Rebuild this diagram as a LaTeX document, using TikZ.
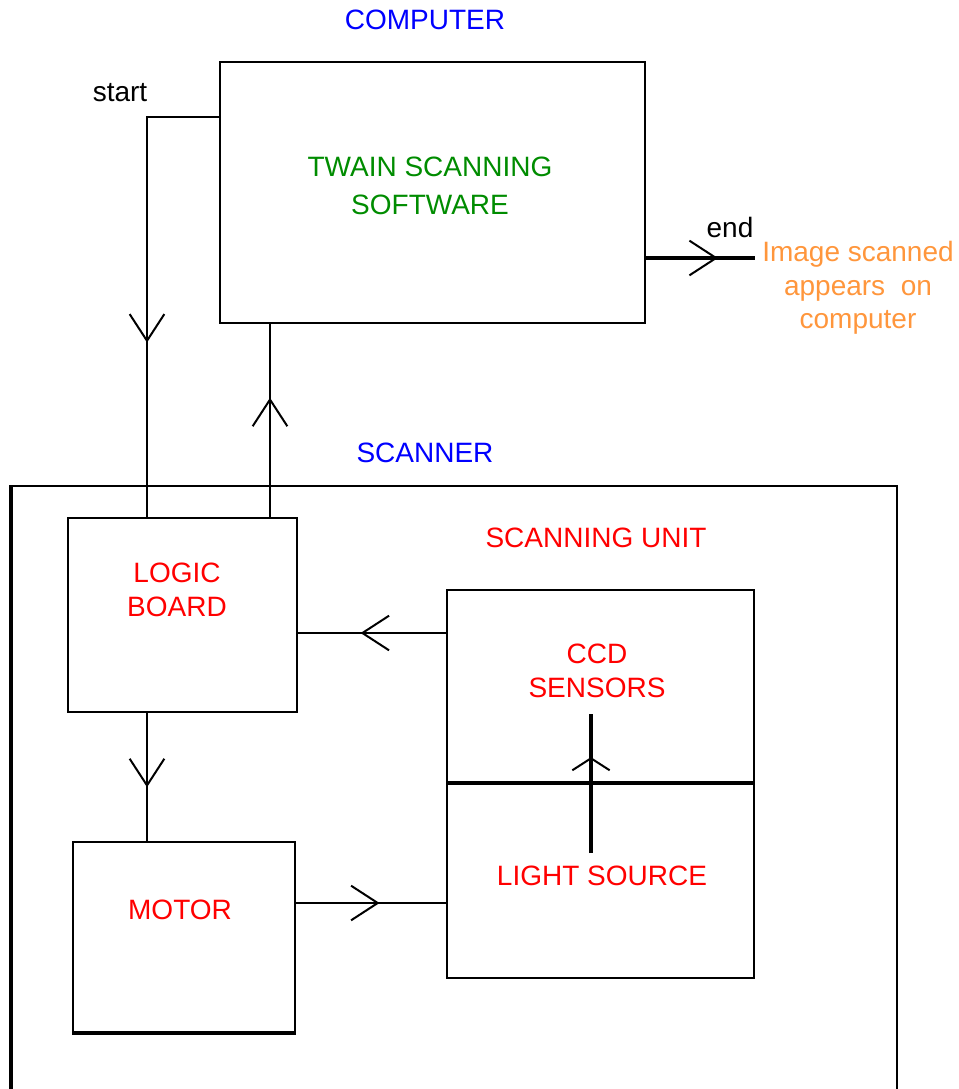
\documentclass[tikz,border=0pt]{standalone}
\usepackage{fontspec}
\setmainfont{Liberation Sans}
\usetikzlibrary{arrows.meta,decorations.markings}
\definecolor{titleblue}{RGB}{0,0,255}
\definecolor{softgreen}{RGB}{0,140,0}
\definecolor{unitred}{RGB}{255,0,0}
\definecolor{outorange}{RGB}{255,150,60}
\tikzset{
  box/.style={draw, line width=1.5pt, rectangle, inner sep=0pt},
  lbl/.style={font=\fontsize{21}{25}\selectfont, align=center, inner sep=0pt},
  flow/.style={line width=1.5pt, postaction={decorate},
    decoration={markings, mark=at position #1 with
      {\arrow{Straight Barb[length=20pt,width=26pt,line width=1.5pt]}}}},
  flow/.default=0.5,
  flowflat/.style={line width=2.5pt, postaction={decorate},
    decoration={markings, mark=at position #1 with
      {\arrow{Straight Barb[length=9pt,width=28pt,line width=1.5pt]}}}},
}
\begin{document}
\begin{tikzpicture}[x=0.75pt,y=-0.75pt]
  \useasboundingbox (0,0) rectangle (959,1089);
  \clip (0,0) rectangle (959,1089);

  % 计算机
  \node[lbl, text=titleblue] (comptitle) at (425,20) {COMPUTER};
  \node[box, minimum width=425*0.75pt, minimum height=261*0.75pt] (computer) at (432.5,192.5) {};
  \node[lbl, text=softgreen, font=\fontsize{21}{28}\selectfont] (twain) at (430,186) {TWAIN SCANNING\\SOFTWARE};

  % 扫描仪
  \node[lbl, text=titleblue] (scantitle) at (425,453) {SCANNER};
  \node[box, minimum width=885*0.75pt, minimum height=634*0.75pt] (scanner) at (454.5,803) {};
  \draw[line width=3pt] (scanner.north west) -- (scanner.south west);
  \node[lbl, text=unitred] (unittitle) at (596,538) {SCANNING UNIT};

  % 模块
  \node[box, minimum width=229*0.75pt, minimum height=194*0.75pt] (logic) at (182.5,615) {};
  \node[lbl, text=unitred] (logictxt) at (177,590) {LOGIC\\BOARD};
  \node[box, minimum width=307*0.75pt, minimum height=388*0.75pt] (ccd) at (600.5,784) {};
  \node[lbl, text=unitred] (ccdtxt) at (597,671) {CCD\\SENSORS};
  \node[lbl, text=unitred] (lighttxt) at (602,876) {LIGHT SOURCE};
  \node[box, minimum width=222*0.75pt, minimum height=190*0.75pt] (motor) at (184,937) {};
  \draw[line width=3pt] (motor.south west) -- (motor.south east);
  \node[lbl, text=unitred] (motortxt) at (180,910) {MOTOR};

  % 端点
  \coordinate (startpt) at (220,117);
  \coordinate (lgin) at (147,518);
  \coordinate (lgout) at (270,518);
  \coordinate (endpt) at (755,258);
  \coordinate (ccdout) at (447,633);
  \coordinate (mtout) at (295,903);
  \coordinate (divl) at (447,783);
  \coordinate (lampbot) at (591,853);
  \coordinate (senstop) at (591,714);

  % 连线
  \draw[flow=0.63] (startpt) -| (lgin);
  \node[lbl] (startlbl) at (120,93) {start};
  \draw[flow=0.62] (lgout) -- (lgout |- computer.south);
  \draw[flow=0.66, line width=3pt] (computer.east |- endpt) -- (endpt);
  \node[lbl] (endlbl) at (730,227) {end};
  \node[lbl, text=outorange] (outtxt) at (858,288) {Image scanned\\appears\ \ on\\computer};
  \draw[flow=0.58] (ccdout) -- (ccdout -| logic.east);
  \draw[flow=0.58] (lgin |- logic.south) -- (lgin |- motor.north);
  \draw[flow=0.56] (mtout) -- (mtout -| ccd.west);

  % 扫描单元内部
  \draw[line width=2.5pt] (divl) -- (divl -| ccd.east);
  \draw[flowflat=0.69] (lampbot) -- (senstop);
\end{tikzpicture}
\end{document}
